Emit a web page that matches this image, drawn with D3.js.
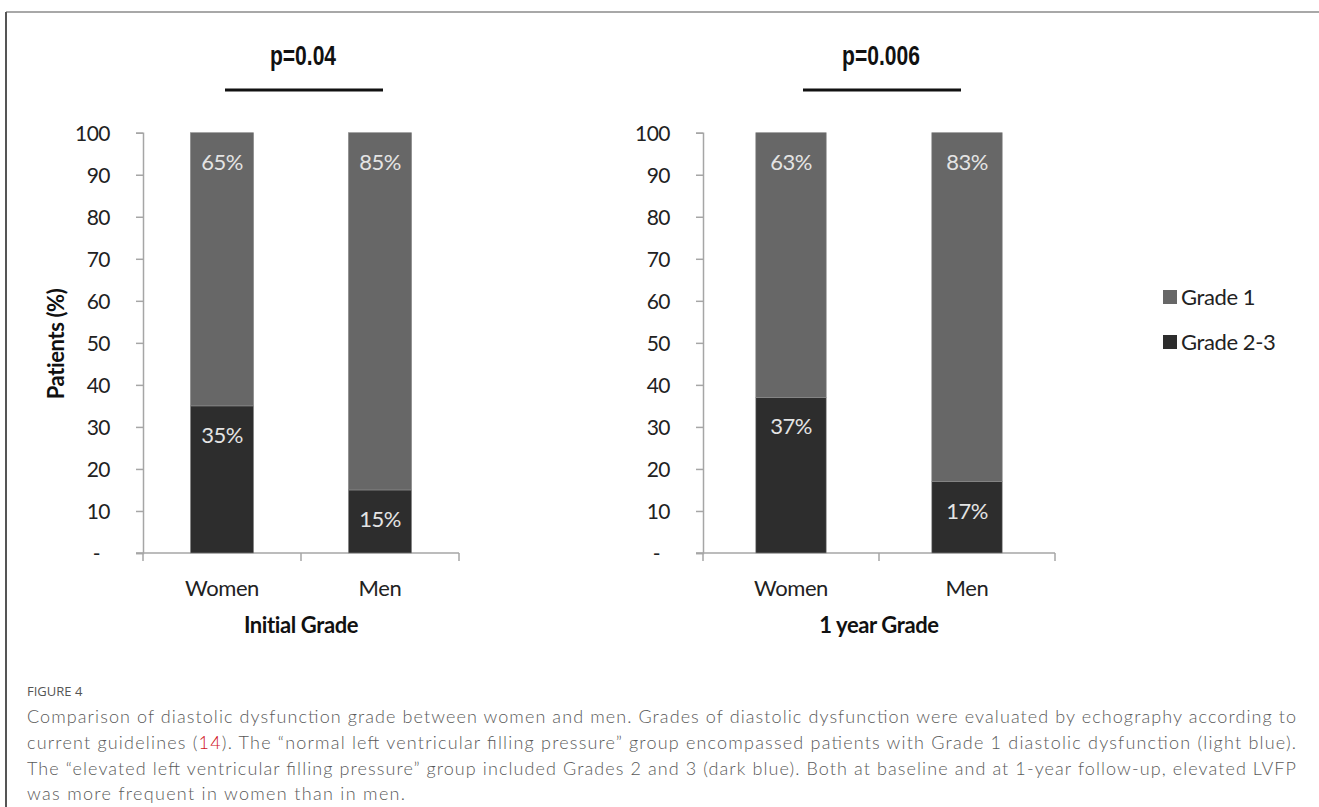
<!DOCTYPE html>
<html>
<head>
<meta charset="utf-8">
<script src="https://cdn.jsdelivr.net/npm/d3@7"></script>
<style>
  html, body { margin: 0; padding: 0; background: #fff; }
  svg { display: block; }
</style>
</head>
<body>
<svg id="chart"></svg>
<script>
// chart values
const categories = ["Women", "Men"];
const panelTitles = ["Initial Grade", "1 year Grade"];
const pLabels = ["p=0.04", "p=0.006"];
const grade1Initial = [65, 85];
const grade23Initial = [35, 15];
const grade1Year = [63, 83];
const grade23Year = [37, 17];
const seriesNames = ["Grade 1", "Grade 2-3"];
const yTicks = [0, 10, 20, 30, 40, 50, 60, 70, 80, 90, 100];

const captionLines = [
  "Comparison of diastolic dysfunction grade between women and men. Grades of diastolic dysfunction were evaluated by echography according to",
  ["current guidelines (", "14", "). The \u201cnormal left ventricular filling pressure\u201d group encompassed patients with Grade 1 diastolic dysfunction (light blue)."],
  "The \u201celevated left ventricular filling pressure\u201d group included Grades 2 and 3 (dark blue). Both at baseline and at 1-year follow-up, elevated LVFP",
  "was more frequent in women than in men."
];

const width = 1319;
const height = 807;
const colors = { "Grade 1": "#676767", "Grade 2-3": "#2d2d2d" };
const chartFont = "Lato, 'Open Sans', sans-serif";

const svg = d3.select("#chart")
  .attr("width", width)
  .attr("height", height);

// figure frame (top + left rules)
svg.append("line")
  .attr("x1", 6).attr("x2", width).attr("y1", 12).attr("y2", 12)
  .style("stroke", "#a8a8a8").style("stroke-width", 2);
svg.append("line")
  .attr("x1", 6).attr("x2", 6).attr("y1", 12).attr("y2", height)
  .style("stroke", "#555").style("stroke-width", 2);

const yScale = d3.scaleLinear()
  .domain([0, 100])
  .range([553, 132.7]);

const panels = [
  { title: panelTitles[0], p: pLabels[0], g1: grade1Initial, g23: grade23Initial, x0: 143, x1: 459 },
  { title: panelTitles[1], p: pLabels[1], g1: grade1Year, g23: grade23Year, x0: 703, x1: 1055 }
];

const stack = d3.stack().keys(["Grade 2-3", "Grade 1"]);

panels.forEach((panel, pi) => {
  const g = svg.append("g");

  const rows = categories.map((c, i) => ({
    category: c,
    "Grade 1": panel.g1[i],
    "Grade 2-3": panel.g23[i]
  }));

  const xScale = d3.scaleBand()
    .domain(categories)
    .range([panel.x0, panel.x1])
    .paddingInner(0.6)
    .paddingOuter(0.3);

  // y axis
  const yAxis = g.append("g")
    .attr("transform", `translate(${panel.x0},0)`)
    .call(d3.axisLeft(yScale)
      .tickValues(yTicks)
      .tickSize(7)
      .tickPadding(26)
      .tickFormat(d => d === 0 ? "-" : d));
  yAxis.select(".domain").style("stroke", "#a6a6a6").style("stroke-width", 1.5);
  yAxis.selectAll(".tick line").style("stroke", "#a6a6a6").style("stroke-width", 1.5);
  yAxis.selectAll(".tick text")
    .style("font-family", chartFont)
    .style("font-size", "21px")
    .style("letter-spacing", "-0.5px")
    .style("fill", "#222")
    .attr("dy", "0.36em");
  yAxis.selectAll(".tick text").filter(d => d === 0).attr("dx", -10);

  // x axis: ticks at band boundaries
  const xAxisG = g.append("g")
    .attr("transform", `translate(0,${yScale(0)})`);
  xAxisG.append("line")
    .attr("x1", panel.x0 - 7).attr("x2", panel.x1)
    .style("stroke", "#a6a6a6").style("stroke-width", 1.5);
  const boundaries = [panel.x0, (panel.x0 + panel.x1) / 2, panel.x1];
  xAxisG.selectAll("line.xtick")
    .data(boundaries)
    .enter()
    .append("line")
    .attr("class", "xtick")
    .attr("x1", d => d).attr("x2", d => d)
    .attr("y1", 0).attr("y2", 8)
    .style("stroke", "#a6a6a6").style("stroke-width", 1.5);

  const bandCenter = c => xScale(c) + xScale.bandwidth() / 2;
  const mid = (panel.x0 + panel.x1) / 2;

  xAxisG.selectAll("text.cat")
    .data(categories)
    .enter()
    .append("text")
    .attr("class", "cat")
    .attr("x", d => bandCenter(d))
    .attr("y", 43)
    .style("text-anchor", "middle")
    .style("font-family", chartFont)
    .style("font-size", "22px")
    .style("letter-spacing", "-0.4px")
    .style("fill", "#222")
    .text(d => d);

  // stacked bars
  const layers = stack(rows);
  layers.forEach(layer => {
    g.selectAll(null)
      .data(layer)
      .enter()
      .append("rect")
      .attr("x", d => xScale(d.data.category))
      .attr("y", d => yScale(d[1]))
      .attr("width", xScale.bandwidth())
      .attr("height", d => yScale(d[0]) - yScale(d[1]))
      .style("fill", colors[layer.key])
      .style("stroke", "#8a8a8a")
      .style("stroke-width", 0.6);

    g.selectAll(null)
      .data(layer)
      .enter()
      .append("text")
      .attr("x", d => bandCenter(d.data.category))
      .attr("y", d => yScale(d[1]) + 37)
      .style("text-anchor", "middle")
      .style("font-family", chartFont)
      .style("font-size", "22px")
      .style("letter-spacing", "-0.5px")
      .style("fill", "#e4e4e4")
      .text(d => d.data[layer.key] + "%");
  });

  // panel title under axis
  g.append("text")
    .attr("x", mid)
    .attr("y", 633)
    .style("text-anchor", "middle")
    .style("font-family", chartFont)
    .style("font-size", "22px")
    .style("font-weight", "bold")
    .style("letter-spacing", "-0.4px")
    .style("fill", "#111")
    .text(panel.title);

  // p-value bracket
  g.append("line")
    .attr("x1", mid - 76).attr("x2", mid + 82)
    .attr("y1", 90).attr("y2", 90)
    .style("stroke", "#111").style("stroke-width", 3);

  g.append("text")
    .attr("transform", `translate(${mid + 2},65) scale(0.78,1)`)
    .style("text-anchor", "middle")
    .style("font-family", "'Liberation Sans', Arial, sans-serif")
    .style("font-size", "27px")
    .style("font-weight", "bold")
    .style("fill", "#111")
    .text(panel.p);
});

// y axis title
svg.append("text")
  .attr("transform", `translate(64,344) rotate(-90)`)
  .style("text-anchor", "middle")
  .style("font-family", chartFont)
  .style("font-size", "22px")
  .style("font-weight", "bold")
  .style("letter-spacing", "-0.4px")
  .style("fill", "#111")
  .text("Patients (%)");

// legend
const legend = svg.append("g")
  .attr("transform", "translate(1163,0)");
const legendY = [297, 342];
seriesNames.forEach((name, i) => {
  legend.append("rect")
    .attr("x", 0)
    .attr("y", legendY[i] - 7)
    .attr("width", 14)
    .attr("height", 14)
    .style("fill", colors[name]);
  legend.append("text")
    .attr("x", 18)
    .attr("y", legendY[i] + 8)
    .style("font-family", chartFont)
    .style("font-size", "22px")
    .style("letter-spacing", "-0.4px")
    .style("fill", "#222")
    .text(name);
});

// caption
const cap = svg.append("g");
cap.append("text")
  .attr("x", 27)
  .attr("y", 696)
  .style("font-family", "'Open Sans', sans-serif")
  .style("font-size", "13px")
  .style("fill", "#555")
  .text("FIGURE 4");

const captionY = [723, 749, 775, 800];
const captionWidths = [1269, 1269, 1269, 378];
captionLines.forEach((line, i) => {
  const t = cap.append("text")
    .attr("x", 27)
    .attr("y", captionY[i])
    .attr("textLength", captionWidths[i])
    .attr("lengthAdjust", "spacing")
    .style("font-family", "Lato, sans-serif")
    .style("font-weight", 300)
    .style("font-size", "18px")
    .style("fill", "#5a5a5a");
  if (Array.isArray(line)) {
    line.forEach((part, j) => {
      t.append("tspan")
        .style("fill", j === 1 ? "#d0141c" : "#5a5a5a")
        .text(part);
    });
  } else {
    t.text(line);
  }
});
</script>
</body>
</html>
